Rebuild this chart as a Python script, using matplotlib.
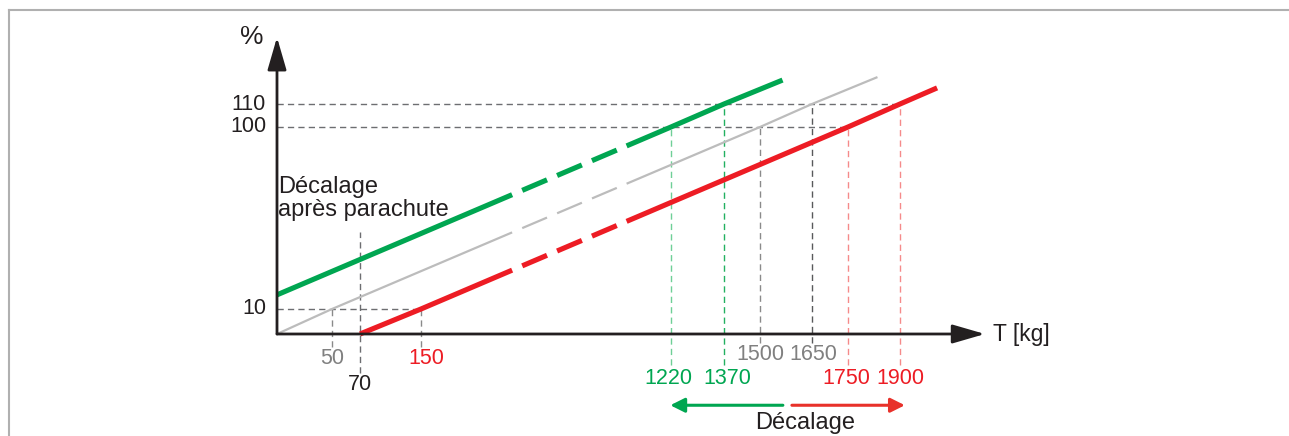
import numpy as np
import matplotlib
matplotlib.use('Agg')
import matplotlib.pyplot as plt
from matplotlib.lines import Line2D

plt.rcParams['font.family'] = ['Liberation Sans', 'DejaVu Sans']
plt.rcParams['lines.scale_dashes'] = False

# --- data: % against T [kg] ---
grey_T = [0, 50, 1500, 1650, 1835]
grey_pct = [0, 10, 100, 110, 121.7]
green_T = [0, 1220, 1370, 1565]
green_pct = [17, 100, 110, 120.4]
red_T = [70, 150, 1750, 1900, 2007]
red_pct = [0, 10, 100, 110, 117]

y_ticks = [10, 100, 110]
x_ticks = [50, 70, 150, 1220, 1370, 1500, 1650, 1750, 1900]
x_tick_colors = ['#808080', '#231f20', '#ed1c24', '#00a651', '#00a651',
                 '#808080', '#808080', '#ed1c24', '#ed1c24']

GREEN = '#00a651'
RED = '#ed1c24'
GREY = '#bcbcbc'
DARK = '#231f20'

# the drawing is a schematic with broken axes: piecewise scale value -> pixel
X_KNOTS = [0, 50, 70, 150, 1220, 1370, 1500, 1650, 1750, 1900]
X_PIX = [277, 332, 360, 421, 671, 724, 760, 812, 848, 900]
Y_KNOTS = [0, 10, 100, 110]
Y_PIX = [102, 127, 309, 332]
BREAK = [540, 1030]   # T range drawn dashed (axis break)


def piecewise(src, dst):
    src = np.asarray(src, float)
    dst = np.asarray(dst, float)
    k0 = (dst[1] - dst[0]) / (src[1] - src[0])
    k1 = (dst[-1] - dst[-2]) / (src[-1] - src[-2])

    def f(v):
        v = np.asarray(v, float)
        out = np.interp(v, src, dst)
        out = np.where(v < src[0], dst[0] + (v - src[0]) * k0, out)
        out = np.where(v > src[-1], dst[-1] + (v - src[-1]) * k1, out)
        return out
    return f


fx, ix = piecewise(X_KNOTS, X_PIX), piecewise(X_PIX, X_KNOTS)
fy, iy = piecewise(Y_KNOTS, Y_PIX), piecewise(Y_PIX, Y_KNOTS)

W, H = 1289, 436
fig = plt.figure(figsize=(W / 100, H / 100), dpi=100)
ax = fig.add_axes([0, 0, 1, 1])
ax.set_xscale('function', functions=(fx, ix))
ax.set_yscale('function', functions=(fy, iy))
ax.set_xlim(float(ix(0)), float(ix(W)))
ax.set_ylim(float(iy(0)), float(iy(H)))
ax.axis('off')


def pieces(T, pct):
    px, py = fx(np.array(T, float)), fy(np.array(pct, float))
    bx = fx(np.array(BREAK, float))
    by = np.interp(bx, px, py)
    k0, k1 = px < bx[0], px > bx[1]
    a = (np.r_[px[k0], bx[0]], np.r_[py[k0], by[0]])
    c = (np.r_[bx[1], px[k1]], np.r_[by[1], py[k1]])
    return [(ix(x), iy(y)) for x, y in (a, (bx, by), c)]


# guide lines (drawn first, under the curves)
gkw = dict(lw=1, dashes=(4.5, 3))
for pct, t_end in [(10, 150), (100, 1750), (110, 1900)]:
    ax.plot([0, t_end], [pct, pct], color='#6d6e71', **gkw)
v_guides = [(50, 10, -5, '#8a8a8a'), (150, 10, -5, '#8a8a8a'),
            (70, 48, -15.6, '#6d6e71'),
            (1220, 100, -12.4, '#6fcf97'), (1370, 110, -12.4, '#22b060'),
            (1500, 100, -3.6, '#8a8a8a'), (1650, 110, -3.6, '#58595b'),
            (1750, 100, -12.4, '#f58a8a'), (1900, 110, -12.4, '#f58a8a')]
for t, top, bot, c in v_guides:
    ax.plot([t, t], [bot, top], color=c, **gkw)

# the three curves: solid, dashed across the axis break, solid
dash = (19.4, (19.4, 7.9))
for T, pct, c, lw in [(grey_T, grey_pct, GREY, 1.6),
                      (red_T, red_pct, RED, 3.7),
                      (green_T, green_pct, GREEN, 3.7)]:
    a, b, cc = pieces(T, pct)
    ax.plot(*a, color=c, lw=lw, solid_capstyle='butt')
    ax.plot(*b, color=c, lw=lw, linestyle=dash, dash_capstyle='butt')
    ax.plot(*cc, color=c, lw=lw, solid_capstyle='butt')

# axes with arrow heads
Y_TOP, X_END = 139, 2145
akw = dict(arrowstyle='-|>,head_length=20,head_width=5.8', color=DARK,
           lw=2, mutation_scale=1, shrinkA=0, shrinkB=0)
ax.annotate('', xy=(0, Y_TOP), xytext=(0, 0), arrowprops=akw)
ax.annotate('', xy=(X_END, 0), xytext=(0, 0), arrowprops=akw)

FS = 15.5
ax.annotate('%', xy=(0, Y_TOP), xytext=(-25, 0), textcoords='offset pixels',
            ha='center', va='center', fontsize=19, color=DARK)
ax.annotate('T [kg]', xy=(X_END, 0), xytext=(8, 0), textcoords='offset pixels',
            ha='left', va='center', fontsize=16.5, color=DARK)

for v in y_ticks:
    ax.annotate(str(v), xy=(0, v), xytext=(-11, 0), textcoords='offset pixels',
                ha='right', va='center', fontsize=FS, color=DARK)

x_offsets = [(0, -24), (0, -51), (5, -24), (-3, -45), (3, -45),
             (0, -20), (1, -20), (-2, -45), (0, -45)]
for v, c, off in zip(x_ticks, x_tick_colors, x_offsets):
    ax.annotate(str(v), xy=(v, 0), xytext=off, textcoords='offset pixels',
                ha='center', va='center', fontsize=FS, color=c)

ax.annotate('Décalage\naprès parachute', xy=(0, 48), xytext=(1, 11),
            textcoords='offset pixels', ha='left', va='bottom',
            fontsize=17, color=DARK, linespacing=1.08)

# shift arrows under the T axis
DECAL_Y = -28.5
skw = dict(arrowstyle='-|>,head_length=8.6,head_width=4.3', lw=2.2,
           mutation_scale=1, shrinkA=0, shrinkB=0)
ax.annotate('', xy=(1217, DECAL_Y), xytext=(1566, DECAL_Y),
            arrowprops=dict(color=GREEN, **skw))
ax.annotate('', xy=(1914, DECAL_Y), xytext=(1592, DECAL_Y),
            arrowprops=dict(color='#e8312a', **skw))
ax.annotate('Décalage', xy=(1630, DECAL_Y), xytext=(0, -18),
            textcoords='offset pixels', ha='center', va='center',
            fontsize=17, color=DARK)

# thin frame on top and left
fig.add_artist(Line2D([9 / W, 1], [1 - 10 / H] * 2, color='#b0b0b0', lw=1.5))
fig.add_artist(Line2D([9 / W] * 2, [0, 1 - 10 / H], color='#b0b0b0', lw=1.5))

fig.savefig('out.png', dpi=100)
